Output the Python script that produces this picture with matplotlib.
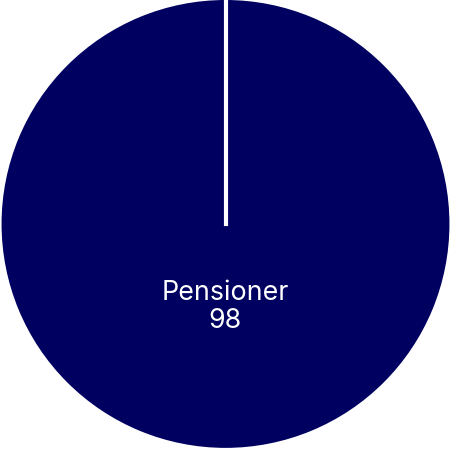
import numpy as np
import matplotlib
matplotlib.use("Agg")
import matplotlib.pyplot as plt

labels = ["Pensioner"]
values = [98]
colors = ["#000060"]

fig = plt.figure(figsize=(4.51, 4.49), dpi=100)
ax = fig.add_axes([0, 0, 1, 1])

wedges, _ = ax.pie(values, colors=colors, startangle=90, counterclock=False,
                   radius=1.0, wedgeprops=dict(edgecolor="none"))

# slice boundary: a full-circle wedge has no radial edge of its own
for w in wedges:
    a = np.deg2rad(w.theta1)
    ax.plot([0, np.cos(a)], [0, np.sin(a)], color="white", lw=3,
            solid_capstyle="projecting")

# label each slice at its mid-angle, partway out from the centre
for w, lab, v in zip(wedges, labels, values):
    mid = np.deg2rad((w.theta1 + w.theta2) / 2)
    r = 0.37
    ax.text(r * np.cos(mid), r * np.sin(mid), f"{lab}\n{v}",
            ha="center", va="center", color="white", fontsize=19.3,
            family="Inter", linespacing=1.1)

ax.set_xlim(-1.005, 1.005)
ax.set_ylim(-1.005, 1.0)
ax.set_aspect("equal")
ax.axis("off")

fig.savefig("out.png", dpi=100)
